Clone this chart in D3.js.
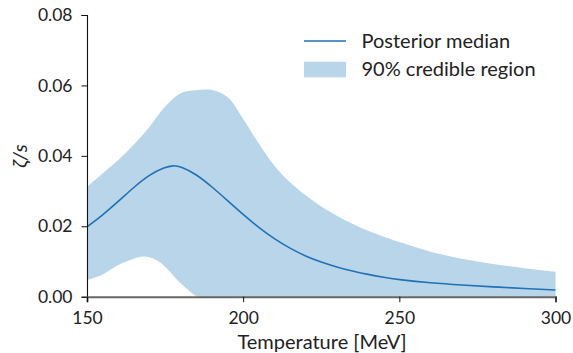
<!DOCTYPE html>
<html><head><meta charset="utf-8">
<script src="https://cdn.jsdelivr.net/npm/d3@7"></script>
<style>body{margin:0;background:#fff}svg{display:block}text{font-family:Lato,"Open Sans",sans-serif;fill:#222}</style>
</head><body><svg id="c" width="573" height="353"></svg>
<script>
const medianT = [150,155,160,165,170,175,177.5,180,185,190,195,200,205,210,215,220,225,230,235,240,245,250,260,270,280,290,300];
const medianV = [0.0198,0.0232,0.0270,0.0311,0.0347,0.0368,0.0373,0.0370,0.0348,0.0312,0.0273,0.0233,0.0196,0.0164,0.0137,0.0115,0.0098,0.0084,0.0073,0.0063,0.0055,0.0048,0.0039,0.0033,0.0028,0.0023,0.0019];
const upperT = [150,155,160,165,170,175,180,185,190,195,200,205,210,215,220,225,230,235,240,245,250,260,270,280,290,300];
const upperV = [0.0312,0.0350,0.0388,0.0432,0.0482,0.0540,0.0578,0.0586,0.0587,0.0567,0.0505,0.0435,0.0372,0.0325,0.0288,0.0256,0.0230,0.0207,0.0187,0.0170,0.0155,0.0128,0.0108,0.0093,0.0081,0.0071];
const lowerT = [150,155,160,165,168,170,173,175,180,183,185.5,200,250,300];
const lowerV = [0.0047,0.0063,0.0090,0.0108,0.0114,0.0112,0.0100,0.0085,0.0038,0.0015,0,0,0,0];
const xTicks = [150,200,250,300];
const yTicks = [0,0.02,0.04,0.06,0.08];
const legendLabels = ["Posterior median","90% credible region"];

const svg = d3.select("#c");
const x = d3.scaleLinear().domain([150,300]).range([87,555.5]);
const y = d3.scaleLinear().domain([0,0.08]).range([296.7,15]);
const lineCol = "#2171b5", fillCol = "#b9d5ea";

const upPath = d3.line().curve(d3.curveCatmullRom.alpha(0.5))(upperT.map((t,i)=>[x(t),y(upperV[i])]));
const lowPath = d3.line().curve(d3.curveCatmullRom.alpha(0.5))(lowerT.map((t,i)=>[x(t),y(lowerV[i])]).reverse());
svg.append("path").attr("d", upPath + "L" + lowPath.slice(1) + "Z").attr("fill",fillCol).attr("stroke","none");

svg.append("path").datum(medianT.map((t,i)=>[x(t),y(medianV[i])]))
  .attr("d", d3.line().curve(d3.curveBasis)).attr("fill","none").attr("stroke",lineCol).attr("stroke-width",1.6);

// axes
const ya = svg.append("g").attr("transform","translate(87,0)")
  .call(d3.axisLeft(y).tickValues(yTicks).tickFormat(d3.format(".2f")).tickSize(5.5).tickPadding(9));
ya.select(".domain").attr("stroke","#111").attr("stroke-width",1.1);
ya.selectAll(".tick line").attr("stroke","#111");
ya.selectAll("text").style("font-size","17.5px").attr("fill","#222");

const xa = svg.append("g").attr("transform","translate(0,296.7)")
  .call(d3.axisBottom(x).tickValues(xTicks).tickFormat(d3.format("d")).tickSize(5.5).tickPadding(9));
xa.select(".domain").attr("stroke","#666").attr("stroke-width",2);
xa.selectAll(".tick line").attr("stroke","#111");
xa.selectAll("text").style("font-size","17.5px").attr("fill","#222");

svg.append("text").attr("x",322).attr("y",349.3).attr("text-anchor","middle").style("font-size","20px").text("Temperature [MeV]");
svg.append("text").attr("transform","translate(27,156) rotate(-90)").attr("text-anchor","middle").style("font-size","20px").style("font-style","italic").text("ζ/s");

// legend
const lg = svg.append("g");
lg.append("line").attr("x1",304).attr("x2",346).attr("y1",41).attr("y2",41).attr("stroke",lineCol).attr("stroke-width",1.6);
lg.append("rect").attr("x",304).attr("y",61.7).attr("width",42).attr("height",15.6).attr("fill",fillCol);
lg.append("text").attr("x",361.5).attr("y",47.7).style("font-size","20px").text(legendLabels[0]);
lg.append("text").attr("x",361.5).attr("y",76).style("font-size","20px").text(legendLabels[1]);
</script></body></html>
